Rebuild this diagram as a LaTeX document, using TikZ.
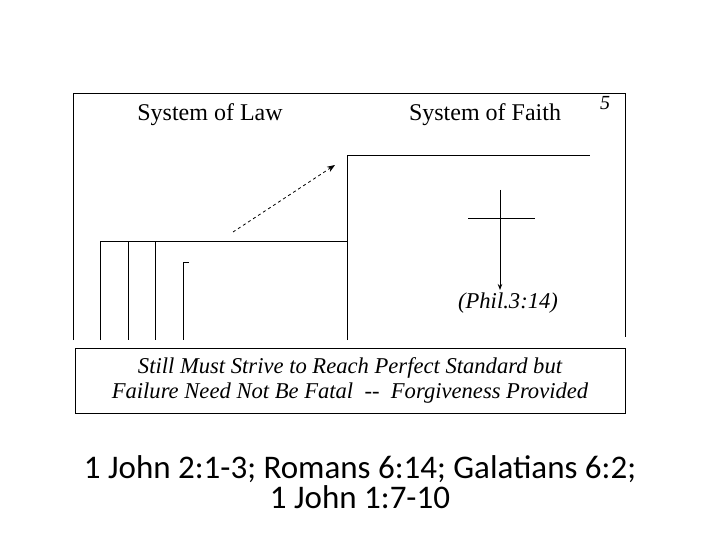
\documentclass[tikz,border=0pt]{standalone}
\usepackage{fontspec}
\setmainfont{Liberation Serif}
\newfontfamily\notefont{Carlito}
\usetikzlibrary{arrows.meta}

\begin{document}
\begin{tikzpicture}[x=1pt, y=-1pt, line width=0.8pt,
  title/.style={font=\fontsize{24}{28}\selectfont},
  note/.style={font=\fontsize{22.6}{25}\selectfont\itshape, align=center},
  refs/.style={font=\notefont\fontsize{33}{30}\selectfont, align=center}]
\useasboundingbox (0,0) rectangle (720,540);

% Frame
\draw (73,340) -- (73,93) -- (625,93) -- (625,337);
\node[title] (law) at (210,115) {System of Law};
\node[title] (faith) at (485,115) {System of Faith};
\node[font=\fontsize{20}{20}\selectfont\itshape] (page) at (605,103) {5};

% Steps
\draw (100,340) -- (100,241) -- (347,241);
\draw (128,241) -- (128,340);
\draw (155,241) -- (155,340);
\draw (189,262) -- (183,262) -- (183,340);
\draw (347,340) -- (347,155) -- (590,155);

% Arrow between the systems
\coordinate (lo) at (233,232);
\coordinate (hi) at (335,165);
\draw[dashed, -{Stealth[length=8pt]}] (lo) -- (hi);

% Cross
\coordinate (ctop) at (500,190);
\coordinate (cbot) at (500,290);
\draw[-{Stealth[length=6pt]}] (ctop) -- (cbot);
\draw (468,218) -- (535,218);
\node[font=\fontsize{22.6}{26}\selectfont\itshape] (phil) at (508,303) {(Phil.3:14)};

% Box
\draw (75,348) rectangle (625,413);
\node[note] (box) at (350,380) {Still Must Strive to Reach Perfect Standard but\\Failure Need Not Be Fatal \ -{}- \ Forgiveness Provided};

% References
\node[refs] (refs) at (360,482) {1 John 2:1-3; Romans 6:14; Galatians 6:2;\\1 John 1:7-10};
\end{tikzpicture}
\end{document}
